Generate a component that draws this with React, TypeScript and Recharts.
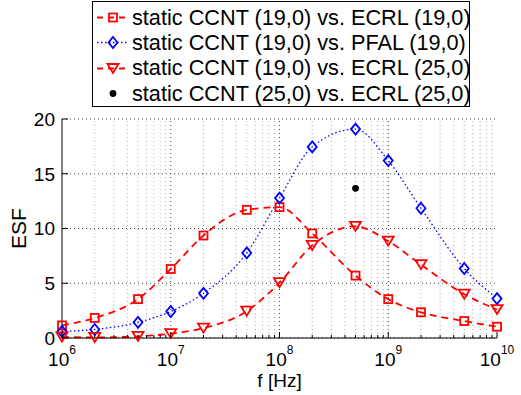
import React from 'react';
import { ComposedChart, Line, XAxis, YAxis, CartesianGrid, ReferenceLine, Legend, Label } from 'recharts';

// frequency points (Hz)
const freqs = [1e6, 2e6, 5e6, 1e7, 2e7, 5e7, 1e8, 2e8, 5e8, 1e9, 2e9, 5e9, 1e10];

// ESF values
const ecrl19 = [1.15, 1.83, 3.55, 6.3, 9.36, 11.7, 11.95, 9.55, 5.7, 3.55, 2.35, 1.55, 1.03];
const pfal19 = [0.6, 0.78, 1.43, 2.42, 4.08, 7.77, 12.78, 17.45, 19.08, 16.2, 11.85, 6.35, 3.6];
const ecrl25 = [0.1, 0.05, 0.15, 0.4, 0.9, 2.45, 5.05, 8.45, 10.2, 8.85, 6.7, 4.0, 2.6];
const ccnt25 = [null, null, null, null, null, null, null, null, 13.67, null, null, null, null];

const legendNames = [
  'static CCNT (19,0) vs. ECRL (19,0)',
  'static CCNT (19,0) vs. PFAL (19,0)',
  'static CCNT (19,0) vs. ECRL (25,0)',
  'static CCNT (25,0) vs. ECRL (25,0)',
];

const decadeTicks = [1e6, 1e7, 1e8, 1e9, 1e10];
const decadeExponents = ['6', '7', '8', '9', '10'];
const minorTicks = decadeTicks.slice(0, -1).flatMap((d) => [2, 3, 4, 5, 6, 7, 8, 9].map((m) => m * d));
const xTicks = [...decadeTicks, ...minorTicks].sort((a, b) => a - b);
const yTicks = [0, 5, 10, 15, 20];

const data = freqs.map((f, i) => ({
  f,
  ecrl19: ecrl19[i],
  pfal19: pfal19[i],
  ecrl25: ecrl25[i],
  ccnt25: ccnt25[i],
}));

const RED = '#ff0000';
const BLUE = '#0000ff';
const FONT = "'Liberation Sans', Arial, Helvetica, sans-serif";

const SquareMark = ({ cx, cy }: any) =>
  cx == null || cy == null ? <g /> : (
    <rect x={cx - 4} y={cy - 4} width={8} height={8} fill="none" stroke={RED} strokeWidth={1.8} />
  );

const DiamondMark = ({ cx, cy }: any) =>
  cx == null || cy == null ? <g /> : (
    <path d={`M${cx},${cy - 5.5}L${cx + 4.5},${cy}L${cx},${cy + 5.5}L${cx - 4.5},${cy}Z`} fill="none" stroke={BLUE} strokeWidth={1.8} />
  );

const TriangleMark = ({ cx, cy }: any) =>
  cx == null || cy == null ? <g /> : (
    <path d={`M${cx - 5.5},${cy - 4.5}L${cx + 5.5},${cy - 4.5}L${cx},${cy + 4.5}Z`} fill="none" stroke={RED} strokeWidth={1.8} />
  );

const DotMark = ({ cx, cy }: any) =>
  cx == null || cy == null ? <g /> : <circle cx={cx} cy={cy} r={3.4} fill="#000" />;

const BottomTick = ({ x, y, payload }: any) => {
  const i = decadeTicks.indexOf(payload.value);
  return (
    <g>
      <line x1={x} y1={y} x2={x} y2={y - (i >= 0 ? 6 : 3)} stroke="#000" />
      {i >= 0 && (
        <text x={x} y={y + 28} textAnchor="middle" fontSize={19} fill="#000">
          10<tspan dy={-12} fontSize={12}>{decadeExponents[i]}</tspan>
        </text>
      )}
    </g>
  );
};

const TopTick = ({ x, y, payload }: any) => {
  const major = decadeTicks.includes(payload.value);
  return <line x1={x} y1={y} x2={x} y2={y + (major ? 6 : 3)} stroke="#000" />;
};

const LeftTick = ({ x, y, payload }: any) => (
  <g>
    <line x1={x} y1={y} x2={x + 6} y2={y} stroke="#000" />
    <text x={x - 7} y={y} dy="0.36em" textAnchor="end" fontSize={19} fill="#000">
      {payload.value}
    </text>
  </g>
);

const RightTick = ({ x, y }: any) => <line x1={x} y1={y} x2={x - 6} y2={y} stroke="#000" />;

const EsfLabel = ({ viewBox }: any) => {
  const cx = 26;
  const cy = viewBox.y + viewBox.height / 2;
  return (
    <text x={cx} y={cy} textAnchor="middle" fontSize={21} fill="#000" transform={`rotate(-90, ${cx}, ${cy})`}>
      ESF
    </text>
  );
};

const FreqLabel = ({ viewBox }: any) => (
  <text x={viewBox.x + viewBox.width / 2} y={viewBox.y + 49} textAnchor="middle" fontSize={19} fill="#000">
    f [Hz]
  </text>
);

const sampleFor = (i: number) => {
  if (i === 0)
    return (
      <>
        <line x1={4} y1={12.5} x2={36} y2={12.5} stroke={RED} strokeWidth={1.8} strokeDasharray="6 5" />
        <SquareMark cx={20} cy={12.5} />
      </>
    );
  if (i === 1)
    return (
      <>
        <line x1={4} y1={12.5} x2={36} y2={12.5} stroke={BLUE} strokeWidth={1.3} strokeDasharray="1.5 2.5" />
        <DiamondMark cx={20} cy={12.5} />
      </>
    );
  if (i === 2)
    return (
      <>
        <line x1={4} y1={12.5} x2={36} y2={12.5} stroke={RED} strokeWidth={1.8} strokeDasharray="6 5" />
        <TriangleMark cx={20} cy={12.5} />
      </>
    );
  return <DotMark cx={20} cy={12.5} />;
};

const renderLegend = () => (
  <div
    style={{
      boxSizing: 'border-box',
      width: 378,
      height: 106,
      border: '1px solid #000',
      background: '#fff',
      paddingTop: 3,
      fontFamily: FONT,
    }}
  >
    {legendNames.map((name, i) => (
      <div key={name} style={{ display: 'flex', alignItems: 'center', height: 25.3 }}>
        <svg width={39} height={25} style={{ flex: 'none' }}>
          {sampleFor(i)}
        </svg>
        <span style={{ fontSize: 21.7, whiteSpace: 'nowrap', color: '#000' }}>{name}</span>
      </div>
    ))}
  </div>
);

export default function App() {
  return (
    <div style={{ position: 'absolute', left: 0, top: 0, width: 521, height: 395, background: '#fff', fontFamily: FONT }}>
      <ComposedChart width={521} height={395} data={data} margin={{ top: 119, right: 24, bottom: 0, left: 0 }}>
        <CartesianGrid vertical={false} stroke="#444" strokeDasharray="1 3" />
        {xTicks
          .filter((t) => t > 1e6 && t < 1e10)
          .map((t) => (
            <ReferenceLine
              key={t}
              x={t}
              stroke={decadeTicks.includes(t) ? '#444' : '#aaa'}
              strokeDasharray="1 3"
            />
          ))}
        <XAxis
          dataKey="f"
          type="number"
          scale="log"
          domain={[1e6, 1e10]}
          ticks={xTicks}
          interval={0}
          height={57}
          tickSize={0}
          tickMargin={0}
          tick={BottomTick}
          axisLine={{ stroke: '#000' }}
        >
          <Label content={FreqLabel} />
        </XAxis>
        <XAxis
          xAxisId="top"
          orientation="top"
          dataKey="f"
          type="number"
          scale="log"
          domain={[1e6, 1e10]}
          ticks={xTicks}
          interval={0}
          height={0}
          tickSize={0}
          tickMargin={0}
          tick={TopTick}
          axisLine={{ stroke: '#000' }}
        />
        <YAxis
          domain={[0, 20]}
          ticks={yTicks}
          interval={0}
          width={62}
          tickSize={0}
          tickMargin={0}
          tick={LeftTick}
          axisLine={{ stroke: '#000' }}
        >
          <Label content={EsfLabel} />
        </YAxis>
        <YAxis
          yAxisId="right"
          orientation="right"
          domain={[0, 20]}
          ticks={yTicks}
          interval={0}
          width={0}
          tickSize={0}
          tickMargin={0}
          tick={RightTick}
          axisLine={{ stroke: '#000' }}
        />
        <Legend
          layout="horizontal"
          verticalAlign="middle"
          align="center"
          wrapperStyle={{ left: 92, top: 1, width: 378, height: 106 }}
          content={renderLegend}
        />
        <Line
          type="monotone"
          dataKey="ecrl19"
          stroke={RED}
          strokeWidth={1.8}
          strokeDasharray="7 5"
          dot={SquareMark}
          isAnimationActive={false}
        />
        <Line
          type="monotone"
          dataKey="pfal19"
          stroke={BLUE}
          strokeWidth={1.3}
          strokeDasharray="1.5 2.5"
          dot={DiamondMark}
          isAnimationActive={false}
        />
        <Line
          type="monotone"
          dataKey="ecrl25"
          stroke={RED}
          strokeWidth={1.8}
          strokeDasharray="7 5"
          dot={TriangleMark}
          isAnimationActive={false}
        />
        <Line dataKey="ccnt25" stroke="none" dot={DotMark} isAnimationActive={false} />
      </ComposedChart>
    </div>
  );
}
